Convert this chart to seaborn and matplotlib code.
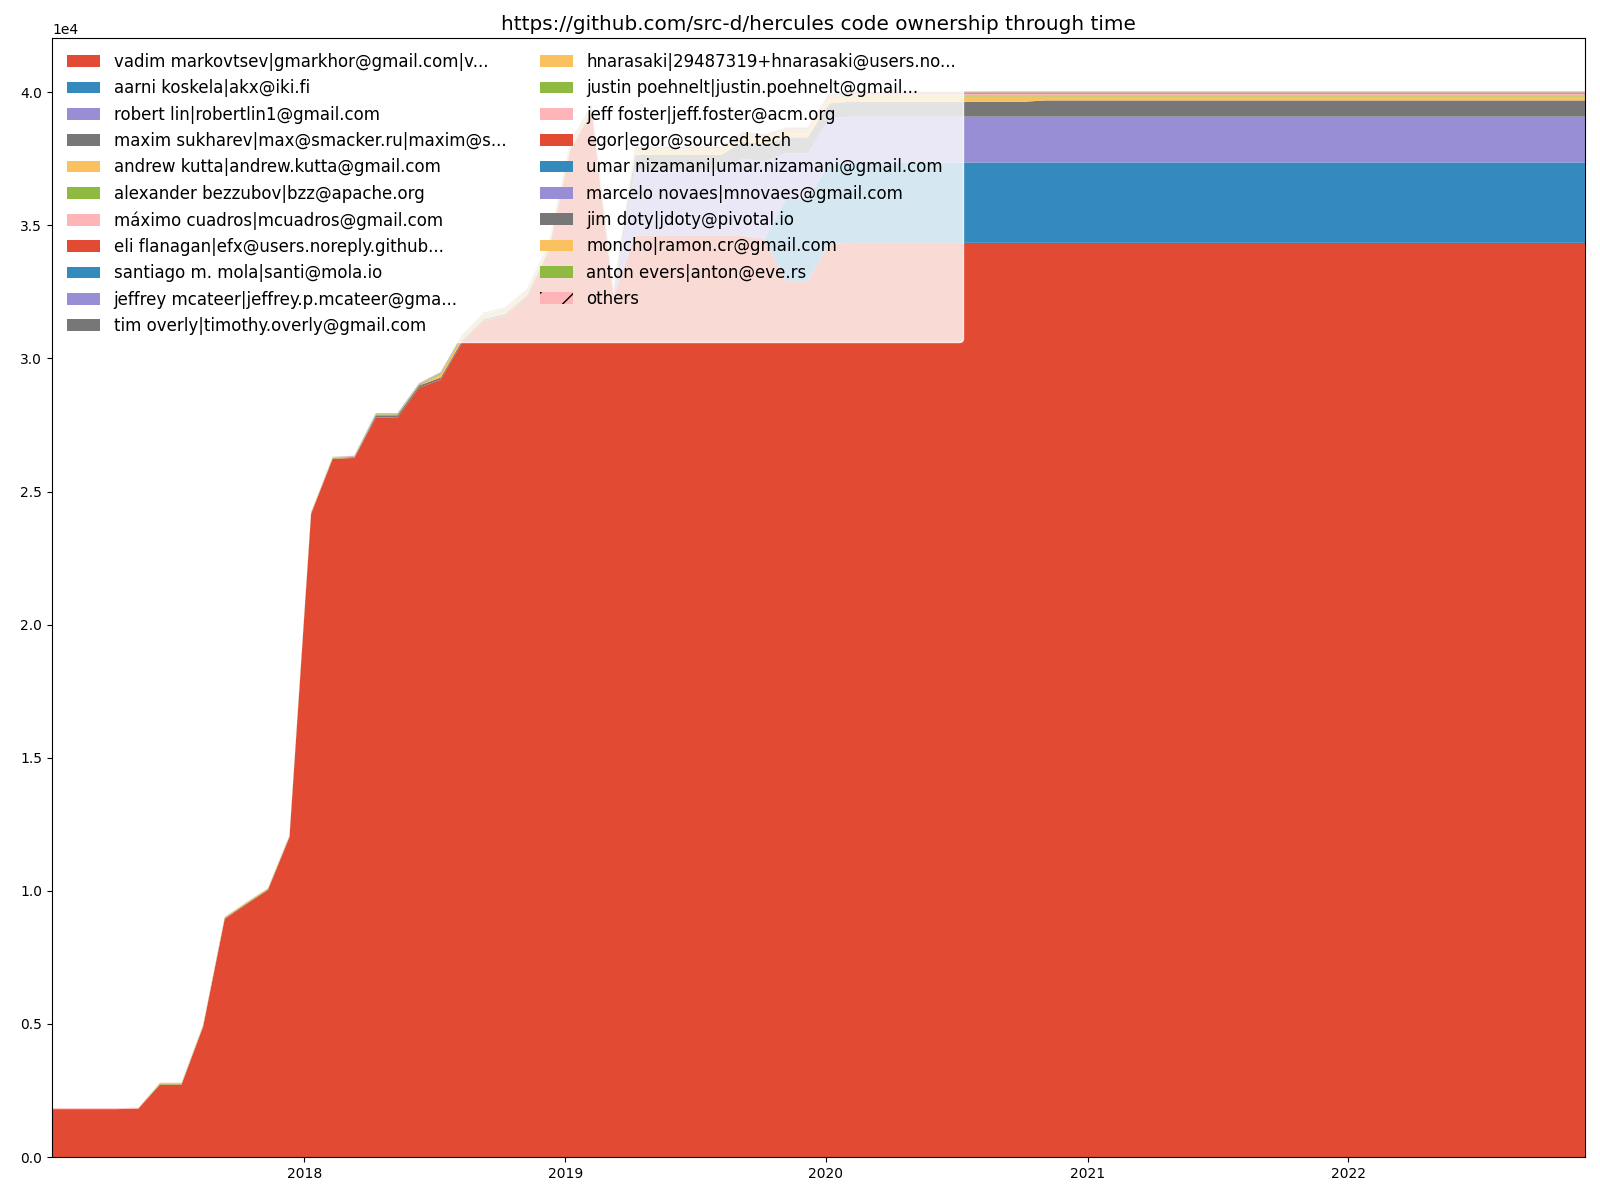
import matplotlib

matplotlib.use("Agg")

import matplotlib.dates as mdates
import matplotlib.pyplot as plt
import pandas as pd
import seaborn as sns


TITLE = "https://github.com/src-d/hercules code ownership through time"
START_DATE = "2017-01-13"
END_DATE = "2022-11-28"
N_SAMPLES = 72

AUTHORS = [
    "vadim markovtsev|gmarkhor@gmail.com|v...",
    "aarni koskela|akx@iki.fi",
    "robert lin|robertlin1@gmail.com",
    "maxim sukharev|max@smacker.ru|maxim@s...",
    "andrew kutta|andrew.kutta@gmail.com",
    "alexander bezzubov|bzz@apache.org",
    "máximo cuadros|mcuadros@gmail.com",
    "eli flanagan|efx@users.noreply.github...",
    "santiago m. mola|santi@mola.io",
    "jeffrey mcateer|jeffrey.p.mcateer@gma...",
    "tim overly|timothy.overly@gmail.com",
    "hnarasaki|29487319+hnarasaki@users.no...",
    "justin poehnelt|justin.poehnelt@gmail...",
    "jeff foster|jeff.foster@acm.org",
    "egor|egor@sourced.tech",
    "umar nizamani|umar.nizamani@gmail.com",
    "marcelo novaes|mnovaes@gmail.com",
    "jim doty|jdoty@pivotal.io",
    "moncho|ramon.cr@gmail.com",
    "anton evers|anton@eve.rs",
    "others",
]

# lines owned by each author at every sampling point (72 samples)
VADIM = [
    1800, 1800, 1800, 1800, 1820, 2720, 2720, 4900, 8950, 9500, 10030, 12020,
    24160, 26230, 26260, 27780, 27780, 28900, 29200, 30600, 31400, 31600, 32300, 34000,
    37800, 39200, 32300, 34600, 34600, 34600, 34600, 34600, 34600, 34500, 32900, 32900,
    34300,
] + [34340] * 35
AARNI = [0] * 34 + [3100, 3100, 3000] + [3020] * 35
ROBERT = [0] * 27 + [2500] * 5 + [2900] * 2 + [1700] * 2 + [1720] * 36
MAXIM = [0] * 15 + [80] * 11 + [100] + [550] * 5 + [650] * 2 + [600] * 2 + [560] * 10 + [610] * 26
ANDREW = [0] * 18 + [120] * 8 + [100] + [150] * 5 + [200] * 14 + [150] * 26
ALEXANDER = [0] * 5 + [40] * 67
MAXIMO = [25] * 20 + [55] * 52
ELI = [0] * 24 + [15] * 48
SANTIAGO = [0] * 14 + [12] * 58
JEFFREY = [0] * 30 + [8] * 42
TIM = [0] * 28 + [8] * 44
HNARASAKI = [0] * 40 + [8] * 32
JUSTIN = [0] * 26 + [6] * 46
JEFF = [0] * 22 + [6] * 50
EGOR = [0] * 33 + [5] * 39
UMAR = [0] * 19 + [5] * 53
MARCELO = [0] * 44 + [4] * 28
JIM = [0] * 36 + [4] * 36
MONCHO = [0] * 30 + [3] * 42
ANTON = [0] * 42 + [3] * 30
OTHERS = [10] * 72

SERIES = [
    VADIM, AARNI, ROBERT, MAXIM, ANDREW, ALEXANDER, MAXIMO, ELI, SANTIAGO, JEFFREY,
    TIM, HNARASAKI, JUSTIN, JEFF, EGOR, UMAR, MARCELO, JIM, MONCHO, ANTON, OTHERS,
]

GGPLOT_COLORS = ["#E24A33", "#348ABD", "#988ED5", "#777777", "#FBC15E", "#8EBA42", "#FFB5B8"]


def build_frame() -> pd.DataFrame:
    dates = pd.date_range(START_DATE, END_DATE, periods=N_SAMPLES)
    return pd.DataFrame(dict(zip(AUTHORS, SERIES)), index=dates)


def plot_ownership(df: pd.DataFrame, output_file: str) -> None:
    palette = sns.color_palette(GGPLOT_COLORS, n_colors=len(GGPLOT_COLORS))
    colors = [palette[i % len(palette)] for i in range(len(df.columns))]

    fig, ax = plt.subplots(figsize=(16, 12), dpi=100)
    ax.stackplot(df.index, df.T.values, labels=df.columns, colors=colors)

    ax.set_xlim(df.index[0], df.index[-1])
    ax.xaxis.set_major_locator(mdates.YearLocator())
    ax.xaxis.set_major_formatter(mdates.DateFormatter("%Y"))
    ax.ticklabel_format(axis="y", style="sci", scilimits=(0, 0))

    legend = ax.legend(loc="upper left", ncol=2, fontsize=12)
    frame = legend.get_frame()
    frame.set_facecolor("white")
    frame.set_edgecolor("white")
    # "others" is hatched only in the legend key
    legend.legend_handles[-1].set_hatch("/")

    ax.set_title(TITLE, fontsize=14.4)

    fig.subplots_adjust(left=0.0325, right=0.9906, top=0.9683, bottom=0.0358)
    fig.savefig(output_file, dpi=100)
    plt.close(fig)


def main() -> None:
    df = build_frame()
    plot_ownership(df, "out.png")


if __name__ == "__main__":
    main()
